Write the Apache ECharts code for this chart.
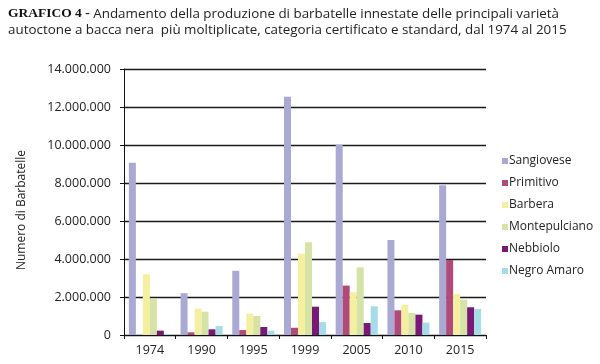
<!DOCTYPE html>
<html><head><meta charset="utf-8">
<script src="https://cdn.jsdelivr.net/npm/echarts@6/dist/echarts.min.js"></script>
<style>html,body{margin:0;padding:0;background:#fff}#c{width:600px;height:364px}</style>
</head><body><div id="c"></div>
<script>
const categories = ['1974','1990','1995','1999','2005','2010','2015'];
const seriesNames = ['Sangiovese','Primitivo','Barbera','Montepulciano','Nebbiolo','Negro Amaro'];
const sangiovese    = [9070000, 2200000, 3380000, 12540000, 10000000, 5000000, 7880000];
const primitivo     = [0, 140000, 260000, 380000, 2600000, 1300000, 3950000];
const barbera       = [3200000, 1380000, 1120000, 4280000, 2250000, 1600000, 2160000];
const montepulciano = [1900000, 1230000, 1000000, 4880000, 3560000, 1160000, 1860000];
const nebbiolo      = [230000, 300000, 420000, 1490000, 630000, 1070000, 1460000];
const negroAmaro    = [50000, 470000, 230000, 680000, 1510000, 650000, 1370000];
const yTicks = [0, 2000000, 4000000, 6000000, 8000000, 10000000, 12000000, 14000000];
const colors = ['#a9a9d4','#b04a78','#f4f0a0','#d5e3a6','#7a1878','#a6dce8'];
const allData = [sangiovese, primitivo, barbera, montepulciano, nebbiolo, negroAmaro];

function fmt(v){ return String(v).replace(/\B(?=(\d{3})+(?!\d))/g, '.'); }

const chart = echarts.init(document.getElementById('c'), null, {renderer:'canvas'});
chart.setOption({
  animation:false,
  backgroundColor:'#fff',
  title:{
    left:3, top:1,
    text:'{b|GRAFICO 4 -} Andamento della produzione di barbatelle innestate delle principali varietà\nautoctone a bacca nera  più moltiplicate, categoria certificato e standard, dal 1974 al 2015',
    textStyle:{
      fontFamily:'Open Sans', fontSize:13.4, fontWeight:'normal', color:'#222', lineHeight:16,
      rich:{ b:{fontFamily:'Liberation Serif', fontWeight:'bold', fontSize:13.5, color:'#111', lineHeight:16} }
    }
  },
  legend:{
    orient:'vertical', left:497, top:150, itemWidth:6, itemHeight:6, itemGap:10,
    icon:'rect',
    textStyle:{fontFamily:'Open Sans', fontSize:12, color:'#222', padding:[0,0,0,-4]},
    data:seriesNames
  },
  graphic:[{
    type:'text', x:22, y:210, rotation:Math.PI/2,
    style:{text:'Numero di Barbatelle', fontFamily:'Open Sans', fontSize:12, fill:'#222',
      align:'center', verticalAlign:'middle'}
  }],
  grid:{left:124, right:114, top:69, bottom:29, containLabel:false},
  xAxis:{
    type:'category', data:categories,
    axisLine:{lineStyle:{color:'#111', width:1}},
    axisTick:{show:true, inside:false, length:4, lineStyle:{color:'#111'}},
    axisLabel:{fontFamily:'Open Sans', fontSize:12.5, color:'#222', margin:9}
  },
  yAxis:{
    type:'value', min:0, max:14000000, interval:2000000,
    axisLine:{show:true, lineStyle:{color:'#111', width:1}},
    axisTick:{show:true, length:4, lineStyle:{color:'#111'}},
    splitLine:{show:true, lineStyle:{color:'#1a1a1a', width:1.4}},
    axisLabel:{fontFamily:'Open Sans', fontSize:12.5, color:'#222', margin:13,
      formatter:function(v){ return yTicks.indexOf(v)>=0 ? fmt(v) : ''; }}
  },
  series: seriesNames.map((n,i)=>({
    name:n, type:'bar', data:allData[i], barWidth:7, barGap:'0%',
    itemStyle:{color:colors[i]}
  }))
});
</script></body></html>
